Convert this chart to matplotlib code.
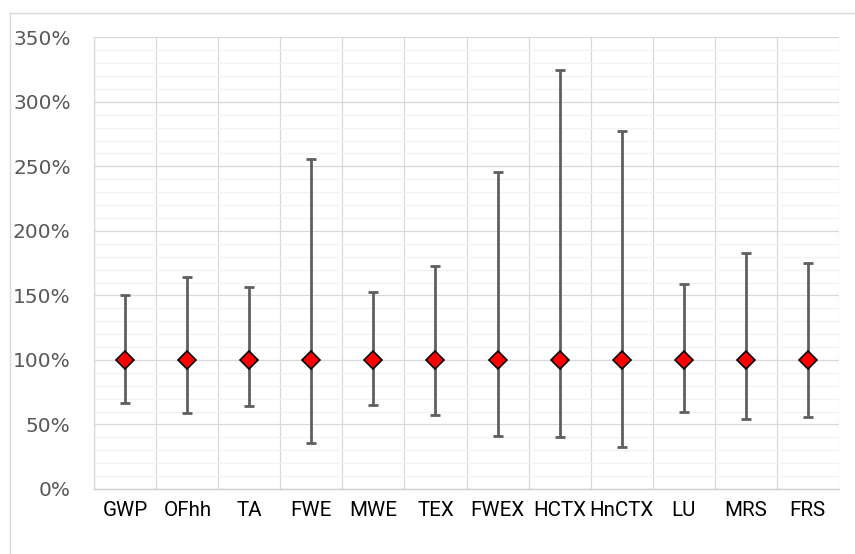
import matplotlib
matplotlib.use("Agg")
import matplotlib.pyplot as plt
from matplotlib.lines import Line2D
from matplotlib.ticker import FuncFormatter, MultipleLocator
import numpy as np

categories = ["GWP", "OFhh", "TA", "FWE", "MWE", "TEX", "FWEX", "HCTX", "HnCTX", "LU", "MRS", "FRS"]
central = [100, 100, 100, 100, 100, 100, 100, 100, 100, 100, 100, 100]
upper = [150, 164, 156.5, 256, 153, 172.5, 245.5, 324.5, 277.5, 158.5, 183, 175]
lower = [66.5, 59, 64, 36, 65, 57.5, 41, 40.5, 32.5, 60, 54, 55.5]

x = np.arange(len(categories))
mid = np.array(central, dtype=float)
err = [mid - np.array(lower), np.array(upper) - mid]

fig = plt.figure(figsize=(8.55, 5.54), dpi=100)
ax = fig.add_axes([94.3 / 855, 1 - 489 / 554, (838.7 - 94.3) / 855, (489 - 37.3) / 554])

ax.errorbar(x, mid, yerr=err, fmt="none", ecolor="#5f5f5f", elinewidth=2.0,
            capsize=3.4, capthick=2.0, zorder=3)
ax.plot(x, mid, "D", color="#ff0000", markeredgecolor="#000000", markeredgewidth=1.2,
        markersize=9, linestyle="none", zorder=4)

ax.set_xlim(-0.5, len(categories) - 0.5)
ax.set_ylim(0, 350)

# grid: major/minor horizontal lines, vertical lines between categories
ax.yaxis.set_major_locator(MultipleLocator(50))
ax.yaxis.set_minor_locator(MultipleLocator(10))
ax.set_xticks(x)
ax.set_xticks(np.arange(-0.5, len(categories)), minor=True)
ax.yaxis.grid(True, which="minor", color="#f2f2f2", lw=0.9, zorder=0)
ax.yaxis.grid(True, which="major", color="#d9d9d9", lw=0.9, zorder=1)
ax.xaxis.grid(True, which="minor", color="#d9d9d9", lw=0.9, zorder=1)
ax.set_axisbelow(True)

ax.yaxis.set_major_formatter(FuncFormatter(lambda v, p: f"{v:.0f}%"))
ax.set_xticklabels(categories, fontsize=14.8, color="#000000",
                   family=["Liberation Sans Narrow", "Roboto", "DejaVu Sans"])
for lab in ax.get_yticklabels():
    lab.set_fontsize(14.5)
    lab.set_color("#595959")
    lab.set_family("DejaVu Sans")
ax.tick_params(axis="both", which="both", length=0)
ax.tick_params(axis="y", pad=17)
ax.tick_params(axis="x", pad=9)

for side in ("top", "right"):
    ax.spines[side].set_visible(False)
ax.spines["left"].set_color("#d9d9d9")
ax.spines["bottom"].set_color("#d0d0d0")
ax.spines["left"].set_linewidth(0.9)
ax.spines["bottom"].set_linewidth(1.0)

# chart area outline
fx, fy = 10 / 855, 1 - 13 / 554
fig.add_artist(Line2D([fx, fx], [0, fy], transform=fig.transFigure, color="#d9d9d9", lw=1.0))
fig.add_artist(Line2D([fx, 1], [fy, fy], transform=fig.transFigure, color="#d9d9d9", lw=1.0))

fig.savefig("out.png", dpi=100)
